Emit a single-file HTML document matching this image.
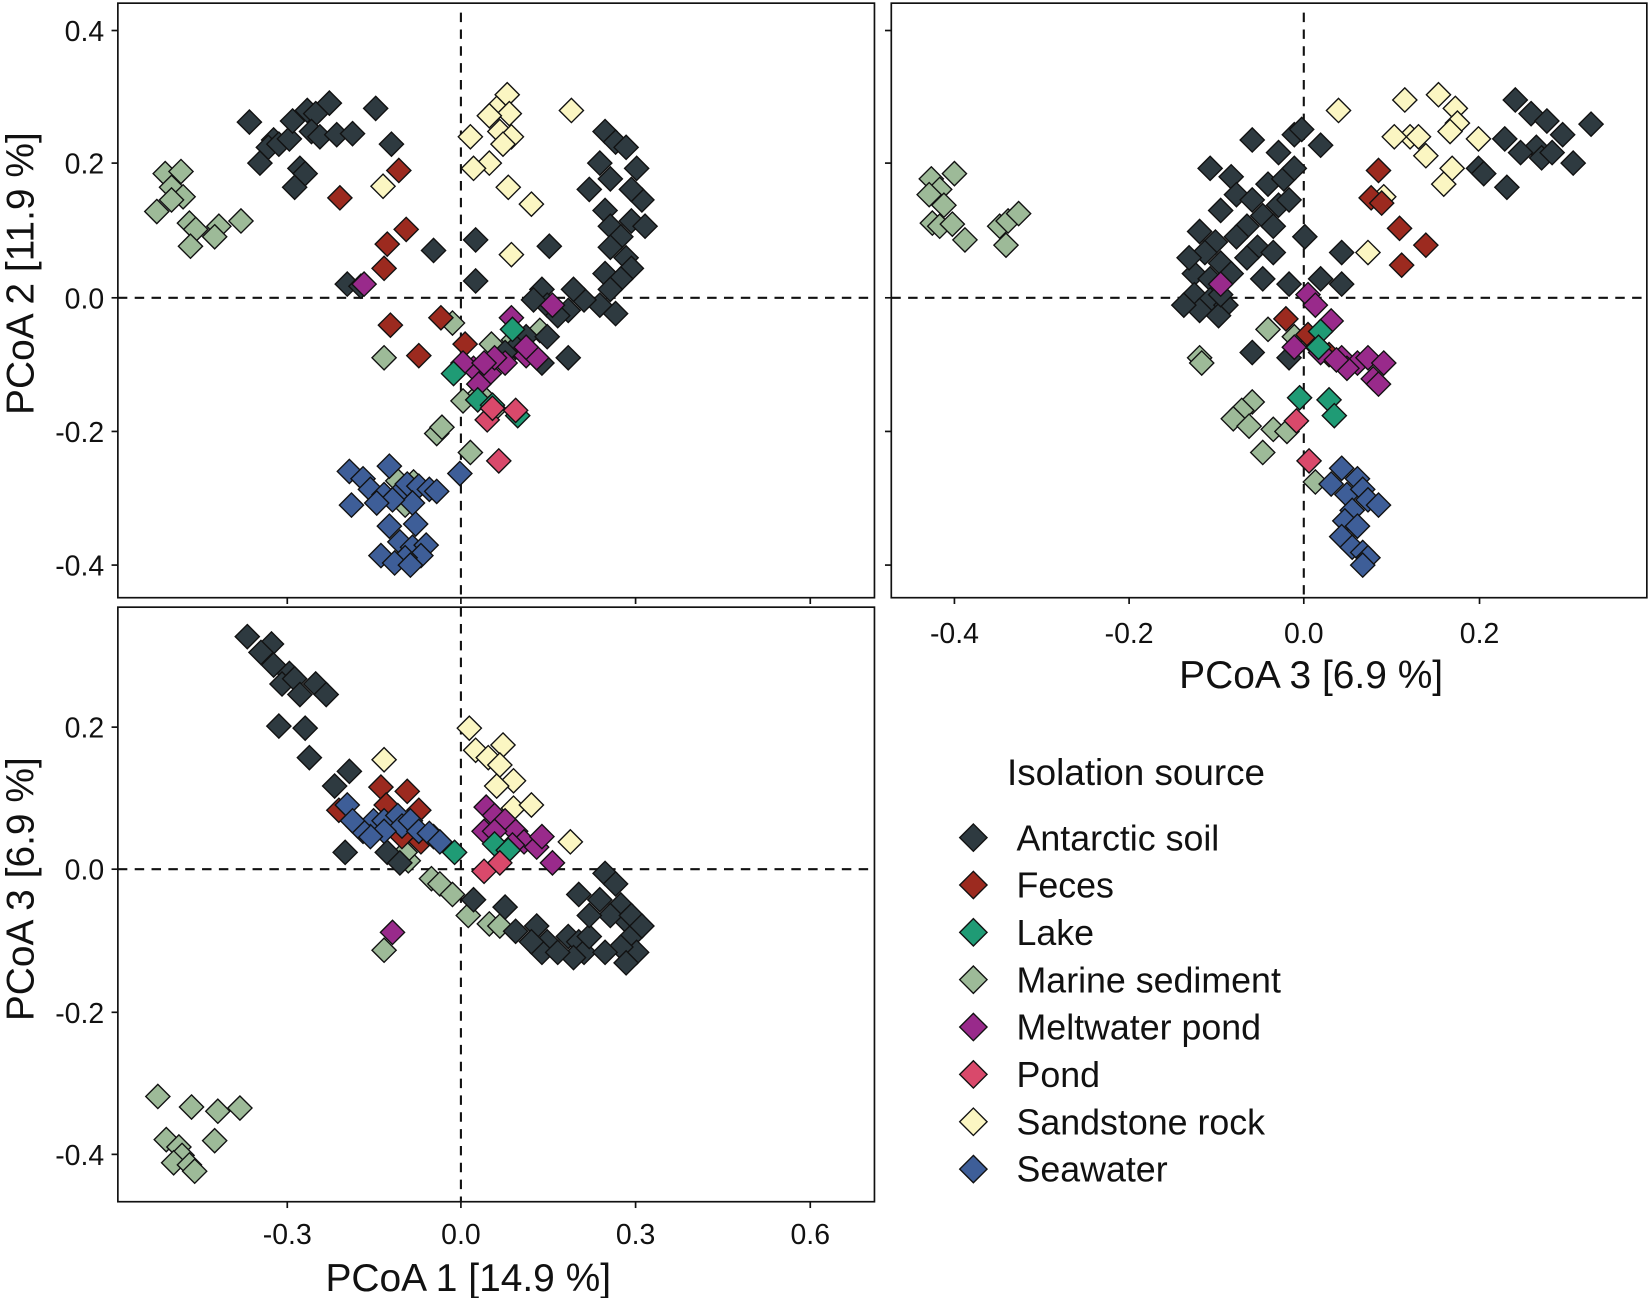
<!DOCTYPE html>
<html><head><meta charset="utf-8"><style>
html,body{margin:0;padding:0;background:#fff;}
svg{display:block}
text{font-family:"Liberation Sans",sans-serif;fill:#111}
</style></head><body>
<svg id="s" width="1650" height="1298" viewBox="0 0 1568 1233.5" xmlns="http://www.w3.org/2000/svg">
<rect x="0" y="0" width="1568" height="1233.5" fill="#fff"/>
<g fill="none" stroke="#111" stroke-width="1.6">
<rect x="112" y="3" width="719" height="565"/>
<rect x="847" y="3" width="718" height="565"/>
<rect x="112" y="577" width="719" height="565"/>
</g>
<g stroke="#111" stroke-width="2" stroke-dasharray="9,7">
<line x1="438" y1="12" x2="438" y2="568"/><line x1="112" y1="283" x2="831" y2="283"/>
<line x1="1239" y1="12" x2="1239" y2="568"/><line x1="847" y1="283" x2="1565" y2="283"/>
<line x1="438" y1="577" x2="438" y2="1142"/><line x1="112" y1="826" x2="831" y2="826"/>
</g>
<g stroke="#111" stroke-width="1.6">
<line x1="106" y1="29" x2="112" y2="29"/><line x1="106" y1="155" x2="112" y2="155"/><line x1="106" y1="283" x2="112" y2="283"/><line x1="106" y1="410" x2="112" y2="410"/><line x1="106" y1="537" x2="112" y2="537"/>
<line x1="841" y1="29" x2="847" y2="29"/><line x1="841" y1="155" x2="847" y2="155"/><line x1="841" y1="283" x2="847" y2="283"/><line x1="841" y1="410" x2="847" y2="410"/><line x1="841" y1="537" x2="847" y2="537"/>
<line x1="273" y1="568" x2="273" y2="574"/><line x1="438" y1="568" x2="438" y2="574"/><line x1="604" y1="568" x2="604" y2="574"/><line x1="770" y1="568" x2="770" y2="574"/>
<line x1="907" y1="568" x2="907" y2="574"/><line x1="1073" y1="568" x2="1073" y2="574"/><line x1="1239" y1="568" x2="1239" y2="574"/><line x1="1406" y1="568" x2="1406" y2="574"/>
<line x1="106" y1="691" x2="112" y2="691"/><line x1="106" y1="826" x2="112" y2="826"/><line x1="106" y1="962" x2="112" y2="962"/><line x1="106" y1="1097" x2="112" y2="1097"/>
<line x1="273" y1="1142" x2="273" y2="1148"/><line x1="438" y1="1142" x2="438" y2="1148"/><line x1="604" y1="1142" x2="604" y2="1148"/><line x1="770" y1="1142" x2="770" y2="1148"/>
</g>
<g font-size="27" text-anchor="end">
<text x="99" y="39">0.4</text><text x="99" y="165">0.2</text><text x="99" y="293">0.0</text><text x="99" y="420">-0.2</text><text x="99" y="547">-0.4</text>
<text x="99" y="701">0.2</text><text x="99" y="836">0.0</text><text x="99" y="972">-0.2</text><text x="99" y="1107">-0.4</text>
</g>
<g font-size="27" text-anchor="middle">
<text x="907" y="611">-0.4</text><text x="1073" y="611">-0.2</text><text x="1239" y="611">0.0</text><text x="1406" y="611">0.2</text>
<text x="273" y="1182">-0.3</text><text x="438" y="1182">0.0</text><text x="604" y="1182">0.3</text><text x="770" y="1182">0.6</text>
</g>
<g font-size="37" text-anchor="middle">
<text x="1246" y="654">PCoA 3 [6.9 %]</text>
<text x="445" y="1227">PCoA 1 [14.9 %]</text>
<text transform="translate(32,260) rotate(-90)">PCoA 2 [11.9 %]</text>
<text transform="translate(32,845) rotate(-90)">PCoA 3 [6.9 %]</text>
</g>
<text x="957" y="746" font-size="35">Isolation source</text>
<g id="leg" font-size="34"></g>
<g id="pts" stroke="#111" stroke-width="1.3"></g>
</svg>
<script>
var C={a:"#2e3a40",f:"#9c2a1f",l:"#1f9b75",m:"#9dba98",w:"#992a8b",p:"#d9496b",s:"#fbf6c2",e:"#3e5e98"};
var names=[["a","Antarctic soil"],["f","Feces"],["l","Lake"],["m","Marine sediment"],["w","Meltwater pond"],["p","Pond"],["s","Sandstone rock"],["e","Seawater"]];
var D={
a:[[237,116],[260,133],[255,140],[265,137],[275,132],[278,115],[292,105],[300,108],[313,98],[296,125],[304,130],[320,128],[335,127],[357,103],[372,137],[247,155],[285,160],[290,165],[280,178],[330,270],[343,272],[412,238],[452,228],[452,267],[522,234],
[575,125],[585,135],[595,140],[570,155],[560,180],[580,170],[605,160],[610,190],[600,180],[575,200],[580,215],[600,210],[613,215],[590,225],[580,235],[595,245],[600,255],[575,260],[590,265],[580,275],[570,290],[585,298],[555,285],[545,275],[540,295],[515,275],[520,290],[530,300],[507,285],[540,340],[500,320],[515,345],[490,330],[480,335],[520,320],
[1150,160],[1170,168],[1190,133],[1215,145],[1230,128],[1237,123],[1255,138],[1175,185],[1190,190],[1205,175],[1220,170],[1160,200],[1185,215],[1200,205],[1215,195],[1225,190],[1140,220],[1155,230],[1175,225],[1195,235],[1240,225],[1145,240],[1160,250],[1185,245],[1210,240],[1135,260],[1150,265],[1170,260],[1200,265],[1225,270],[1135,280],[1150,285],[1165,290],[1140,295],[1158,300],[1190,335],[1225,340],[1275,270],[1275,240],[1255,265],[1130,245],[1125,290],[1160,280],[1230,160],[1210,215],
[1440,95],[1455,108],[1470,115],[1485,128],[1512,118],[1495,155],[1460,140],[1445,145],[1465,150],[1475,145],[1432,178],[1405,160],[1410,165],[1430,132],
[235,605],[258,612],[248,620],[260,632],[275,640],[268,650],[280,645],[285,660],[300,650],[310,660],[265,690],[290,692],[294,720],[318,747],[332,733],[328,810],[368,810],[380,820],[450,855],[480,862],[510,880],[520,895],[515,905],[540,890],[550,895],[555,905],[560,890],[575,830],[585,840],[590,860],[595,875],[600,890],[605,905],[570,855],[580,870],[560,870],[550,850],[600,870],[610,880],[590,900],[575,905],[595,915],[545,910],[530,905],[505,895],[490,885]],
m:[[157,165],[172,163],[163,178],[174,187],[149,201],[163,190],[180,212],[186,218],[208,215],[204,225],[181,234],[229,210],[430,307],[488,323],[513,314],[467,327],[440,381],[456,374],[470,389],[415,412],[420,406],[447,430],[365,340],[378,457],[393,458],[385,480],
[885,170],[893,180],[907,165],[883,185],[897,195],[886,212],[893,215],[917,228],[905,213],[950,215],[958,210],[968,203],[956,233],[1140,340],[1142,345],[1190,382],[1180,390],[1172,398],[1187,405],[1210,408],[1223,410],[1200,430],[1250,458],[1205,313],[1230,320],
[150,1042],[182,1052],[207,1056],[228,1053],[158,1083],[170,1090],[173,1098],[165,1105],[180,1107],[185,1113],[204,1084],[365,903],[388,818],[410,835],[418,840],[430,850],[445,870],[465,878],[475,880],[385,810]],
f:[[323,188],[379,162],[386,218],[368,232],[365,255],[371,309],[419,302],[398,338],[442,327],
[1310,162],[1303,188],[1313,193],[1330,217],[1355,233],[1332,252],[1222,303],[1243,318],[1252,330],[1263,337],
[322,770],[362,748],[367,765],[387,752],[398,770],[382,795],[400,800],[412,795]],
e:[[332,448],[345,455],[370,443],[352,465],[365,470],[378,470],[387,460],[398,462],[408,465],[415,467],[392,478],[373,475],[358,478],[334,480],[370,500],[395,498],[380,515],[392,520],[405,518],[400,528],[385,530],[362,528],[375,535],[390,537],[437,450],
[1275,445],[1290,455],[1265,460],[1280,470],[1295,465],[1300,475],[1310,480],[1285,485],[1278,495],[1290,500],[1275,510],[1285,520],[1295,525],[1300,530],[1295,537],
[330,765],[345,790],[355,780],[365,780],[378,775],[382,785],[390,780],[398,790],[408,792],[418,800],[365,790],[352,795],[340,785],[335,780]],
w:[[346,270],[486,302],[450,350],[465,355],[480,345],[440,345],[500,338],[470,340],[455,365],[525,290],[510,340],[500,330],[460,345],
[1160,270],[1243,280],[1250,290],[1265,305],[1230,330],[1255,335],[1275,340],[1290,345],[1300,340],[1305,360],[1315,345],[1280,350],[1310,365],[1270,342],
[373,886],[462,767],[470,775],[480,780],[490,790],[498,800],[510,805],[525,820],[487,803],[515,795],[460,790],[470,790]],
l:[[431,355],[487,313],[454,380],[492,395],[468,385],[1255,315],[1253,330],[1235,378],[1263,380],[1268,395],[432,810],[470,802],[483,808]],
p:[[463,399],[474,438],[468,388],[490,390],[1232,400],[1244,438],[460,828],[475,820]],
s:[[482,90],[472,103],[484,108],[465,110],[475,125],[486,130],[447,130],[478,137],[465,155],[450,160],[483,178],[505,194],[486,242],[543,105],[364,177],
[1272,105],[1335,95],[1340,130],[1325,130],[1348,130],[1367,90],[1383,103],[1385,117],[1378,125],[1405,132],[1355,148],[1380,160],[1372,175],[1315,187],[1300,240],
[446,692],[452,713],[464,720],[478,708],[475,727],[488,742],[472,747],[488,768],[505,765],[542,800],[365,722]]};
var NS="http://www.w3.org/2000/svg";
function dia(g,x,y,c,r){var p=document.createElementNS(NS,"polygon");p.setAttribute("points",(x)+","+(y-r)+" "+(x+r)+","+y+" "+x+","+(y+r)+" "+(x-r)+","+y);p.setAttribute("fill",c);g.appendChild(p);}
var g=document.getElementById("pts");
["m","a","s","f","e","w","l","p"].forEach(function(k){D[k].forEach(function(q){dia(g,q[0],q[1],C[k],11.5);});});
var L=document.getElementById("leg");
names.forEach(function(n,i){var y=796+i*45;var gg=document.createElementNS(NS,"g");gg.setAttribute("stroke","#111");gg.setAttribute("stroke-width","1.3");L.appendChild(gg);dia(gg,925,y,C[n[0]],13);
var t=document.createElementNS(NS,"text");t.setAttribute("x",966);t.setAttribute("y",y+12);t.textContent=n[1];L.appendChild(t);});
</script>
</body></html>
